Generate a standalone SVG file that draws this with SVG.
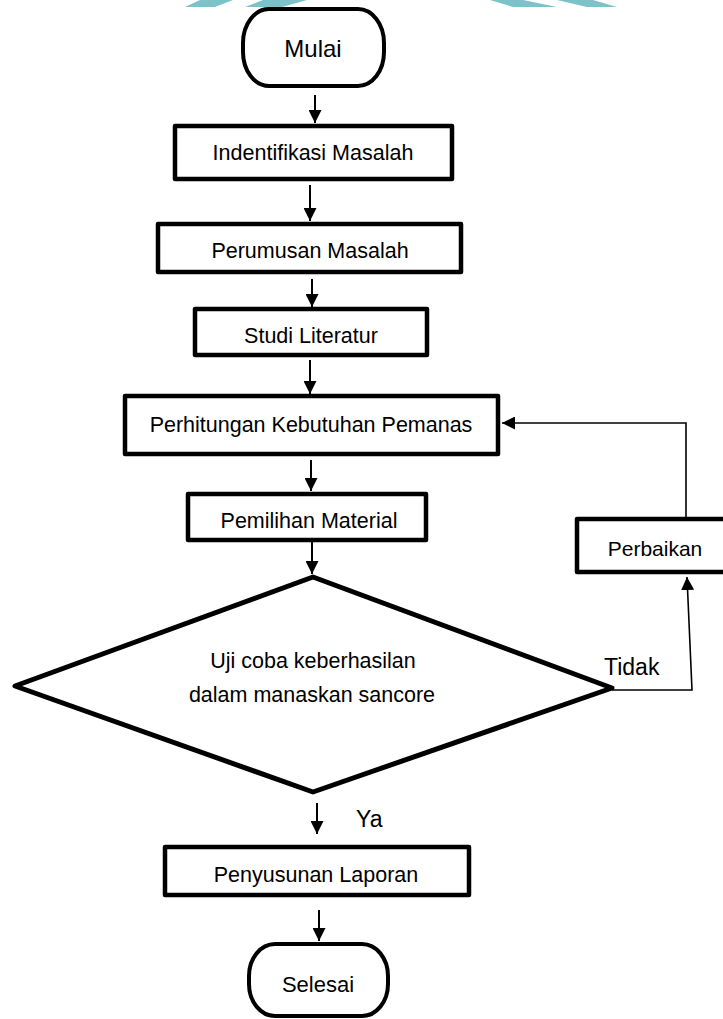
<svg xmlns="http://www.w3.org/2000/svg" width="723" height="1019" viewBox="0 0 723 1019">
<style>
  .box{fill:#fff;stroke:#000;stroke-width:4.5;stroke-linejoin:round}
  .term{fill:#fff;stroke:#000;stroke-width:4}
  .dia{fill:#fff;stroke:#000;stroke-width:5;stroke-linejoin:round}
  .t{font-family:"Liberation Sans",Arial,sans-serif;font-size:21.5px;fill:#000;text-anchor:middle}
  .c{fill:none;stroke:#000;stroke-width:2}
  .c2{fill:none;stroke:#000;stroke-width:1.6}
  .wm{fill:#7cc3c9}
</style>
<defs>
  <marker id="ah" markerUnits="userSpaceOnUse" markerWidth="14" markerHeight="13" refX="13" refY="6.5" orient="auto">
    <path d="M0,0 L13,6.5 L0,13 z" fill="#000"/>
  </marker>
</defs>
<rect width="723" height="1019" fill="#fff"/>
<g id="watermark">
  <polygon class="wm" points="200,0 233,0 215,7 185,7"/>
  <polygon class="wm" points="263,0 307,0 282,7 245,7"/>
  <polygon class="wm" points="490,0 523,0 557,7 513,7"/>
  <polygon class="wm" points="557,0 593,0 617,7 587,7"/>
</g>
<g id="connectors">
  <line class="c" x1="315" y1="95" x2="315" y2="123" marker-end="url(#ah)"/>
  <line class="c" x1="310" y1="185" x2="310" y2="221" marker-end="url(#ah)"/>
  <line class="c" x1="312" y1="279" x2="312" y2="307" marker-end="url(#ah)"/>
  <line class="c" x1="310" y1="360" x2="310" y2="394" marker-end="url(#ah)"/>
  <line class="c" x1="311" y1="460" x2="311" y2="491" marker-end="url(#ah)"/>
  <line class="c" x1="312" y1="542" x2="312" y2="574" marker-end="url(#ah)"/>
  <line class="c" x1="317" y1="803" x2="317" y2="834" marker-end="url(#ah)"/>
  <line class="c" x1="319" y1="910" x2="319" y2="941" marker-end="url(#ah)"/>
  <polyline class="c2" points="612,690 692,690 687,577" marker-end="url(#ah)"/>
  <polyline class="c2" points="686,517 686,423 502,423" marker-end="url(#ah)"/>
</g>
<g id="mulai">
  <rect class="term" x="243" y="9" width="141" height="77" rx="26" ry="34"/>
  <text class="t" x="313" y="57" style="font-size:24px">Mulai</text>
</g>
<g id="identifikasi">
  <rect class="box" x="175" y="126" width="277" height="53"/>
  <text class="t" x="313" y="160">Indentifikasi Masalah</text>
</g>
<g id="perumusan">
  <rect class="box" x="158" y="224" width="303" height="48"/>
  <text class="t" x="310" y="258">Perumusan Masalah</text>
</g>
<g id="studi">
  <rect class="box" x="195" y="309" width="232" height="46"/>
  <text class="t" x="311" y="343">Studi Literatur</text>
</g>
<g id="perhitungan">
  <rect class="box" x="125" y="396" width="373" height="58"/>
  <text class="t" x="311" y="432">Perhitungan Kebutuhan Pemanas</text>
</g>
<g id="pemilihan">
  <rect class="box" x="188" y="494" width="238" height="46"/>
  <text class="t" x="309" y="528">Pemilihan Material</text>
</g>
<g id="perbaikan">
  <rect class="box" x="577" y="519" width="160" height="53"/>
  <text class="t" x="655" y="556" style="font-size:21px">Perbaikan</text>
</g>
<g id="uji">
  <polygon class="dia" points="313,577 612,688 313,792 15,686"/>
  <text class="t" x="313" y="668">Uji coba keberhasilan</text>
  <text class="t" x="312" y="702">dalam manaskan sancore</text>
</g>
<g id="labels">
  <text class="t" x="604" y="675" style="font-size:23px;text-anchor:start">Tidak</text>
  <text class="t" x="356" y="827" style="font-size:23px;text-anchor:start">Ya</text>
</g>
<g id="penyusunan">
  <rect class="box" x="165" y="847" width="304" height="48"/>
  <text class="t" x="316" y="882">Penyusunan Laporan</text>
</g>
<g id="selesai">
  <rect class="term" x="249" y="944" width="139" height="72" rx="26" ry="32"/>
  <text class="t" x="318" y="992" style="font-size:22px">Selesai</text>
</g>
</svg>
